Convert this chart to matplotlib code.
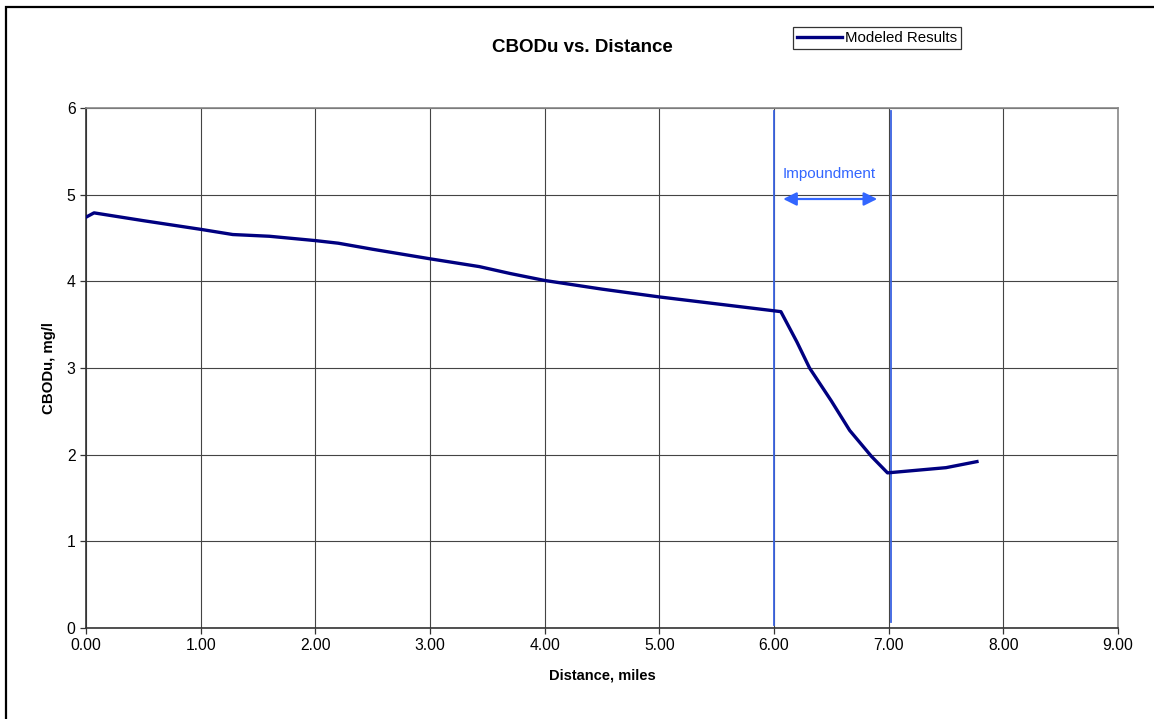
import matplotlib
matplotlib.use("Agg")
import matplotlib.pyplot as plt
from matplotlib.patches import Rectangle

plt.rcParams['font.family'] = ['Liberation Sans', 'DejaVu Sans']

# CBODu along the river
distance = [0.00, 0.07, 0.50, 1.00, 1.28, 1.60, 2.00, 2.20, 2.50, 3.00, 3.43, 3.70,
            4.00, 4.50, 5.00, 5.50, 6.00, 6.06, 6.20, 6.31, 6.50, 6.66, 6.85, 6.99,
            7.50, 7.77]
cbodu = [4.74, 4.79, 4.70, 4.60, 4.54, 4.52, 4.47, 4.44, 4.37, 4.26, 4.17, 4.09,
         4.01, 3.91, 3.82, 3.74, 3.66, 3.65, 3.30, 3.00, 2.62, 2.28, 1.98, 1.79,
         1.85, 1.92]

# impoundment boundaries
impound_start = 6.0
impound_end = 7.02

x_ticks = [0, 1, 2, 3, 4, 5, 6, 7, 8, 9]
y_ticks = [0, 1, 2, 3, 4, 5, 6]

W, H = 1154, 719
fig = plt.figure(figsize=(W / 100, H / 100), dpi=100)
ax = fig.add_axes([86 / W, (H - 628) / H, (1118 - 86) / W, (628 - 108) / H])

# outer chart border (clipped at right/bottom like the original)
fig.patches.append(Rectangle((6 / W, -0.1), 1.2, 1 - 7 / H + 0.1,
                             transform=fig.transFigure, fill=False,
                             edgecolor='black', linewidth=1.6))

ax.set_xlim(0, 9)
ax.set_ylim(0, 6)
ax.set_xticks(x_ticks)
ax.set_yticks(y_ticks)
ax.set_xticklabels([f"{v:.2f}" for v in x_ticks])
ax.set_yticklabels([str(v) for v in y_ticks])
ax.tick_params(direction='out', length=4, width=0.9, labelsize=11.3, color='#333333')
ax.grid(True, color='#444444', linewidth=0.8)
ax.set_axisbelow(True)
for s in ['top', 'right']:
    ax.spines[s].set_color('#888888')
    ax.spines[s].set_linewidth(1.2)
for s in ['left', 'bottom']:
    ax.spines[s].set_color('#333333')
    ax.spines[s].set_linewidth(1.2)

# impoundment markers
ax.plot([impound_start, impound_start], [0.04, 5.96], color='#3a62e0', linewidth=1.3, zorder=3)
ax.plot([impound_end, impound_end], [0.07, 5.96], color='#3a62e0', linewidth=1.3, zorder=3)
ax.annotate('', xy=(6.08, 4.95), xytext=(6.9, 4.95),
            arrowprops=dict(arrowstyle='<|-|>', color='#3366ff', lw=1.6,
                            mutation_scale=20, shrinkA=0, shrinkB=0))
ax.text(6.48, 5.24, 'Impoundment', color='#3366ff', fontsize=11, ha='center', va='center')

line, = ax.plot(distance, cbodu, color='#000080', linewidth=2.4, label='Modeled Results', zorder=4)

fig.text(582 / W, 1 - 47 / H, 'CBODu vs. Distance', fontsize=13.5, fontweight='bold',
         ha='center', va='center')
ax.set_xlabel('Distance, miles', fontsize=10.5, fontweight='bold', labelpad=11)
ax.set_ylabel('CBODu, mg/l', fontsize=10.8, fontweight='bold', labelpad=8)

leg = fig.legend(handles=[line], loc='upper left', bbox_to_anchor=(793 / W, 1 - 27 / H),
                 fontsize=10.8, frameon=True, fancybox=False, edgecolor='black',
                 borderpad=0.25, handlelength=3.0, handletextpad=0.2, borderaxespad=0)
leg.get_frame().set_linewidth(0.9)

fig.savefig('out.png', dpi=100)
